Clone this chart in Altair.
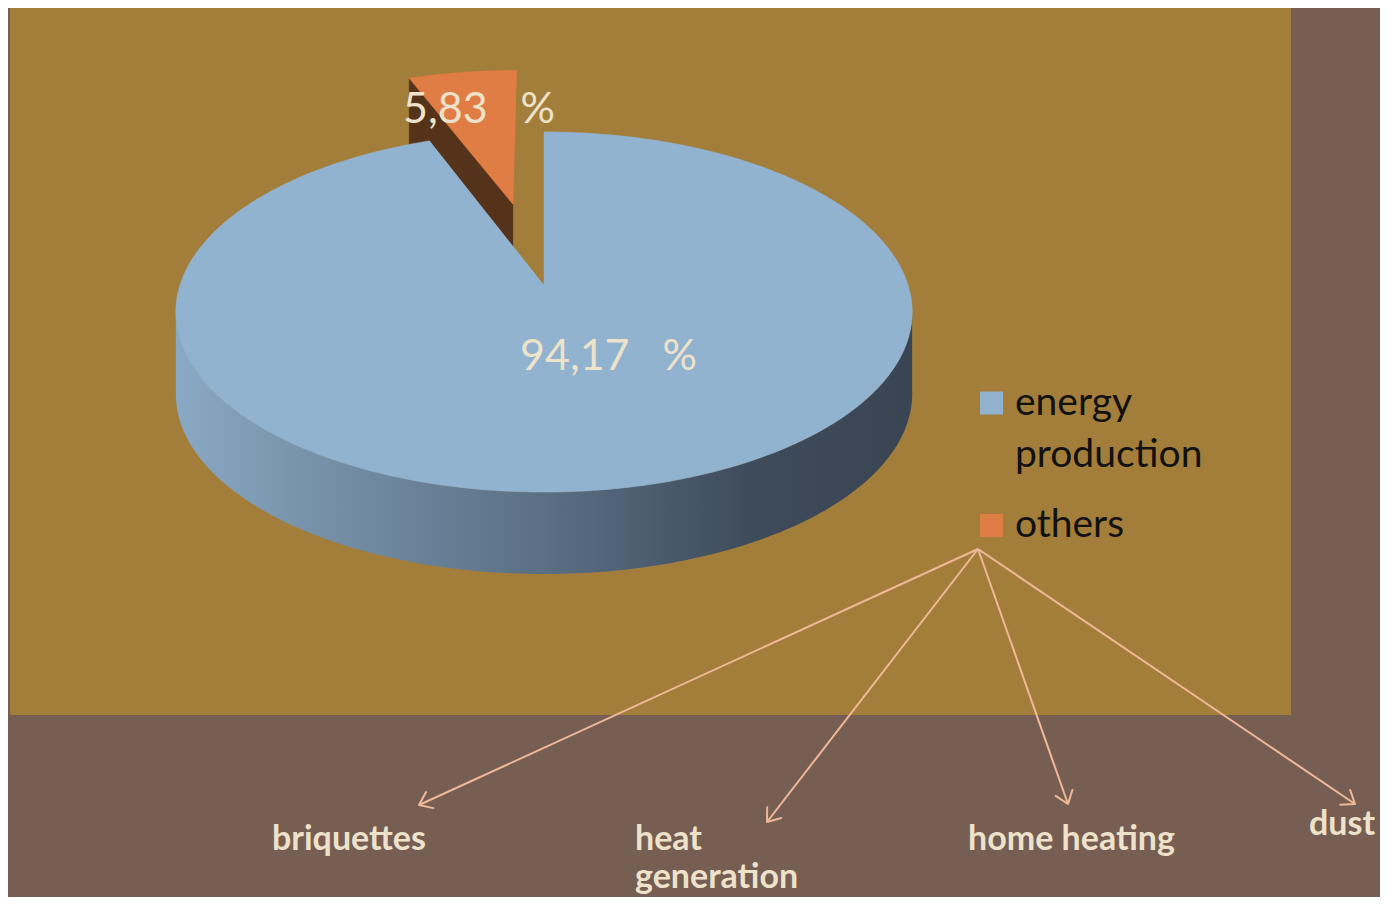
import math
import altair as alt
import pandas as pd

# ---------------- data ----------------
categories = ["energy production", "others"]
shares = [94.17, 5.83]
share_labels = ["94,17\u00a0\u00a0\u00a0%", "5,83\u00a0\u00a0\u00a0%"]
uses = ["briquettes", "heat\ngeneration", "home heating", "dust"]

# ---------------- style / layout ----------------
BG = "#765E53"
GOLD = "#A27E3A"
TOP_COLORS = ["#92B3D0", "#E07D45"]
DARK_FACE = "#55321A"
ARROW = "#F0B898"
CREAM = "#EEE2CB"

W, H = 1372, 889
xs = alt.Scale(domain=[8, 8 + W], range=[0, W], nice=False, zero=False)
ys = alt.Scale(domain=[8, 8 + H], range=[0, H], nice=False, zero=False)

# perspective ellipse of the 3D pie
CX, CY, A, B, K = 544, 285, 364, 176, 0.15
DEPTH = 82
explode = [0.0, 0.5]


def proj(u, v):
    s = 1 + K * v
    return CX + A * u / s, CY - B * v / s


def arc_pts(a0, a1, du, dv, step=1.0):
    n = max(2, int(math.ceil((a1 - a0) / step)) + 1)
    pts = []
    for i in range(n):
        a = math.radians(a0 + (a1 - a0) * i / (n - 1))
        pts.append(proj(math.sin(a) + du, math.cos(a) + dv))
    return pts


total = sum(shares)
starts, ends = [], []
acc = 0.0
for s in shares:
    starts.append(acc / total * 360)
    acc += s
    ends.append(acc / total * 360)

top_rows, wall_rows, face_rows = [], [], []
front0 = 180 - math.degrees(math.acos(K))
front1 = 360 - front0
for i, cat in enumerate(categories):
    mid = math.radians((starts[i] + ends[i]) / 2)
    du, dv = explode[i] * math.sin(mid), explode[i] * math.cos(mid)
    apex = proj(du, dv)
    pts = [apex] + arc_pts(starts[i], ends[i], du, dv)
    for j, (x, y) in enumerate(pts):
        top_rows.append({"id": cat, "o": j, "x": x, "y": y})
    # front wall
    w0, w1 = max(starts[i], front0), min(ends[i], front1)
    if w1 > w0:
        upper = arc_pts(w0, w1, du, dv)
        lower = [(x, y + DEPTH) for x, y in reversed(upper)]
        for j, (x, y) in enumerate(upper + lower):
            wall_rows.append({"id": cat, "o": j, "x": x, "y": y})
    # side face along the start edge of an exploded slice
    if explode[i] > 0:
        e = math.radians(starts[i])
        edge = proj(math.sin(e) + du, math.cos(e) + dv)
        quad = [apex, edge, (edge[0], edge[1] + DEPTH), (apex[0], apex[1] + DEPTH)]
        for j, (x, y) in enumerate(quad):
            face_rows.append({"id": cat, "o": j, "x": x, "y": y})

top_df = pd.DataFrame(top_rows)
wall_df = pd.DataFrame(wall_rows)
face_df = pd.DataFrame(face_rows)


def poly(df, fill, stroke=None):
    kw = dict(fill=fill, strokeWidth=0.6 if stroke else 0, interpolate="linear")
    if stroke:
        kw["stroke"] = stroke
    return alt.Chart(df).mark_line(**kw).encode(
        x=alt.X("x:Q", scale=xs, axis=None),
        y=alt.Y("y:Q", scale=ys, axis=None),
        order="o:Q",
        detail="id:N",
    )


gold = alt.Chart(pd.DataFrame({"x": [10], "x2": [1291], "y": [5], "y2": [715]})).mark_rect(
    color=GOLD
).encode(
    x=alt.X("x:Q", scale=xs, axis=None), x2="x2:Q",
    y=alt.Y("y:Q", scale=ys, axis=None), y2="y2:Q",
)

wall_grad = alt.LinearGradient(
    gradient="linear", x1=0, y1=0, x2=1, y2=0,
    stops=[
        alt.GradientStop(color="#8AA9C4", offset=0),
        alt.GradientStop(color="#7590A8", offset=0.2),
        alt.GradientStop(color="#5A6F84", offset=0.5),
        alt.GradientStop(color="#3E4B5B", offset=0.78),
        alt.GradientStop(color="#3A4553", offset=1),
    ],
)

layers = [gold, poly(wall_df, wall_grad), poly(face_df, DARK_FACE, DARK_FACE)]
for i, cat in enumerate(categories):
    layers.append(poly(top_df[top_df["id"] == cat], TOP_COLORS[i], TOP_COLORS[i]))

# percentage labels on the pie
lab_df = pd.DataFrame({"t": share_labels, "x": [520, 403], "y": [370, 123]})
layers.append(
    alt.Chart(lab_df).mark_text(align="left", baseline="alphabetic", font="Lato",
                                fontSize=43, color=CREAM).encode(
        x=alt.X("x:Q", scale=xs, axis=None), y=alt.Y("y:Q", scale=ys, axis=None), text="t:N")
)

# legend
leg_df = pd.DataFrame({"cat": categories, "x": [991.5, 991.5], "y": [403, 525.5],
                       "tx": [1015, 1015], "ty": [415, 537]})
layers.append(
    alt.Chart(leg_df).mark_square(size=529, opacity=1, filled=True).encode(
        x=alt.X("x:Q", scale=xs, axis=None), y=alt.Y("y:Q", scale=ys, axis=None),
        color=alt.Color("cat:N", scale=alt.Scale(domain=categories, range=TOP_COLORS), legend=None))
)
leg_df["t"] = ["energy\nproduction", "others"]
layers.append(
    alt.Chart(leg_df).mark_text(align="left", baseline="alphabetic", font="Lato", fontSize=39,
                                color="#111111", lineBreak="\n", lineHeight=52).encode(
        x=alt.X("tx:Q", scale=xs, axis=None), y=alt.Y("ty:Q", scale=ys, axis=None), text="t:N")
)

# arrows from "others" to the uses
ox, oy = 978, 549
tips_x = [419, 767, 1068, 1355]
tips_y = [805, 822, 804, 804]
arr_df = pd.DataFrame({
    "x": [ox] * 4, "y": [oy] * 4, "x2": tips_x, "y2": tips_y,
    "ang": [math.degrees(math.atan2(ty - oy, tx - ox)) % 360 for tx, ty in zip(tips_x, tips_y)],
})
layers.append(
    alt.Chart(arr_df).mark_rule(color=ARROW, strokeWidth=2).encode(
        x=alt.X("x:Q", scale=xs, axis=None), y=alt.Y("y:Q", scale=ys, axis=None),
        x2="x2:Q", y2="y2:Q")
)
layers.append(
    alt.Chart(arr_df).mark_point(shape="M -1 -0.75 L 0 0 L -1 0.75", filled=False, size=560,
                                 color=ARROW, strokeWidth=2, opacity=1, strokeCap="round",
                                 strokeJoin="round").encode(
        x=alt.X("x2:Q", scale=xs, axis=None), y=alt.Y("y2:Q", scale=ys, axis=None),
        angle=alt.Angle("ang:Q", scale=None))
)

use_df = pd.DataFrame({"t": uses, "x": [272, 635, 968, 1309], "y": [850, 850, 850, 835]})
layers.append(
    alt.Chart(use_df).mark_text(align="left", baseline="alphabetic", font="Lato", fontSize=34,
                                fontWeight="bold", color=CREAM, lineBreak="\n", lineHeight=38).encode(
        x=alt.X("x:Q", scale=xs, axis=None), y=alt.Y("y:Q", scale=ys, axis=None), text="t:N")
)

chart = alt.layer(*layers).properties(
    width=W, height=H, background=BG, padding=0, autosize="none"
).configure_view(stroke=None)

chart.save("out.html", embed_options={"renderer": "svg", "actions": False})
